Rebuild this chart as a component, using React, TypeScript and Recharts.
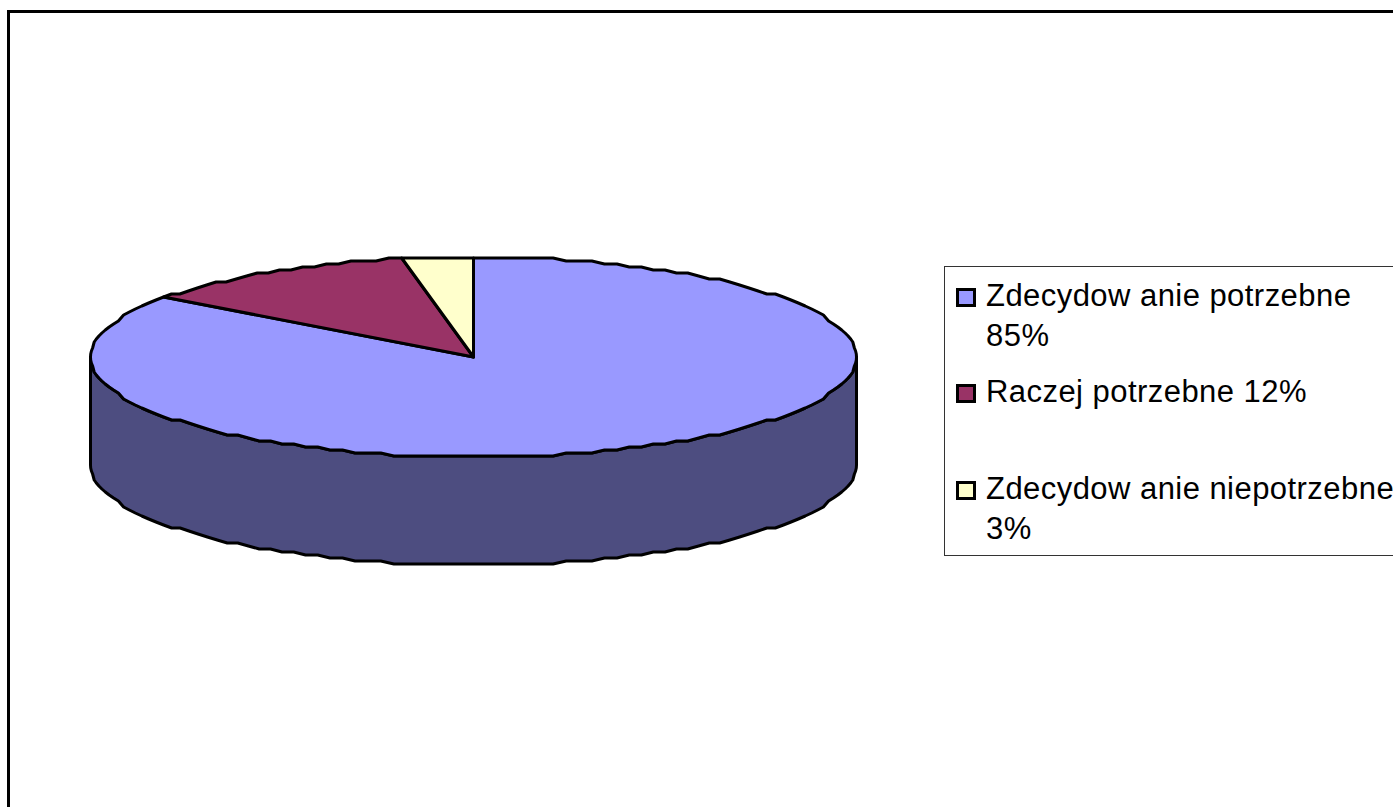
import React from "react";
import { PieChart, Pie, Legend } from "recharts";

const categories = ["Zdecydowanie potrzebne", "Raczej potrzebne", "Zdecydowanie niepotrzebne"];
const legendNames = ["Zdecydow anie potrzebne", "Raczej potrzebne", "Zdecydow anie niepotrzebne"];
const values = [85, 12, 3];
const topColors = ["#9999FF", "#993366", "#FFFFCC"];
const sideColors = ["#4D4D80", "#4D1A33", "#808066"];

const TILT = 100 / 383;
const DEPTH = 108;
const STEP_DEG = 2;
const GRID_Y = 3;

const data = categories.map((name, i) => ({ name, value: values[i], label: `${legendNames[i]} ${values[i]}%` }));
const sideData = data.map((d) => ({ ...d }));

function arc(cx: number, cy: number, r: number, from: number, to: number) {
  const pts: [number, number][] = [];
  const n = Math.max(1, Math.ceil(Math.abs(to - from) / STEP_DEG));
  for (let i = 0; i <= n; i++) {
    const a = ((from + ((to - from) * i) / n) * Math.PI) / 180;
    const x = cx + r * Math.cos(a);
    const dy = r * TILT * Math.sin(a);
    pts.push([x, cy - Math.round(dy / GRID_Y) * GRID_Y]);
  }
  return pts;
}
const toPath = (pts: [number, number][]) => pts.map((p) => `${p[0].toFixed(1)} ${p[1].toFixed(1)}`).join(" L ");

function TopSector(props: any) {
  const { cx, cy, outerRadius, startAngle, endAngle, index } = props;
  const d = `M ${cx} ${cy} L ${toPath(arc(cx, cy, outerRadius, startAngle, endAngle))} Z`;
  return <path d={d} fill={topColors[index]} stroke="#000" strokeWidth={3} strokeLinejoin="round" />;
}

function SideSector(props: any) {
  const { cx, cy, outerRadius, startAngle, endAngle, index } = props;
  const from = Math.min(startAngle, 0);
  const to = Math.max(endAngle, -180);
  if (from <= to) return null;
  const top = arc(cx, cy, outerRadius, from, to);
  const bottom = arc(cx, cy + DEPTH, outerRadius, to, from);
  return <path d={`M ${toPath(top)} L ${toPath(bottom)} Z`} fill={sideColors[index]} stroke="#000" strokeWidth={3} strokeLinejoin="round" />;
}

function LegendBox() {
  return (
    <div style={{ position: "relative", width: 449, height: 290, boxSizing: "border-box", border: "1px solid #333", borderRight: "none", background: "#fff", fontFamily: "'Liberation Sans', Arial, sans-serif", fontSize: 31, letterSpacing: 0.45, lineHeight: "40px", color: "#000" }}>
      {data.map((d, i) => (
        <div key={d.name} style={{ position: "absolute", left: 41, top: 8.5 + 96.5 * i, width: 420 }}>
          <span style={{ position: "absolute", left: -30, top: 12, width: 20, height: 19, boxSizing: "border-box", border: "3px solid #000", background: topColors[i] }} />
          {d.label}
        </div>
      ))}
    </div>
  );
}

export default function App() {
  return (
    <div style={{ position: "absolute", left: 0, top: 0, width: 1393, height: 807, overflow: "hidden", background: "#fff" }}>
      <div style={{ position: "absolute", left: 7, top: 10, right: 0, bottom: 0, borderLeft: "3px solid #000", borderTop: "3px solid #000" }} />
      <PieChart width={1393} height={807} margin={{ top: 0, right: 0, bottom: 0, left: 0 }} style={{ position: "absolute", left: 0, top: 0 }}>
        <Pie data={sideData} dataKey="value" nameKey="name" cx={473.5} cy={357} outerRadius={383} startAngle={90} endAngle={-270} paddingAngle={0} isAnimationActive={false} shape={SideSector} legendType="none" />
        <Pie data={data} dataKey="value" nameKey="name" cx={473.5} cy={357} outerRadius={383} startAngle={90} endAngle={-270} paddingAngle={0} isAnimationActive={false} shape={TopSector} />
        <Legend content={<LegendBox />} layout="vertical" wrapperStyle={{ position: "absolute", left: 944, top: 266, width: 449, height: 290, margin: 0 }} />
      </PieChart>
    </div>
  );
}
